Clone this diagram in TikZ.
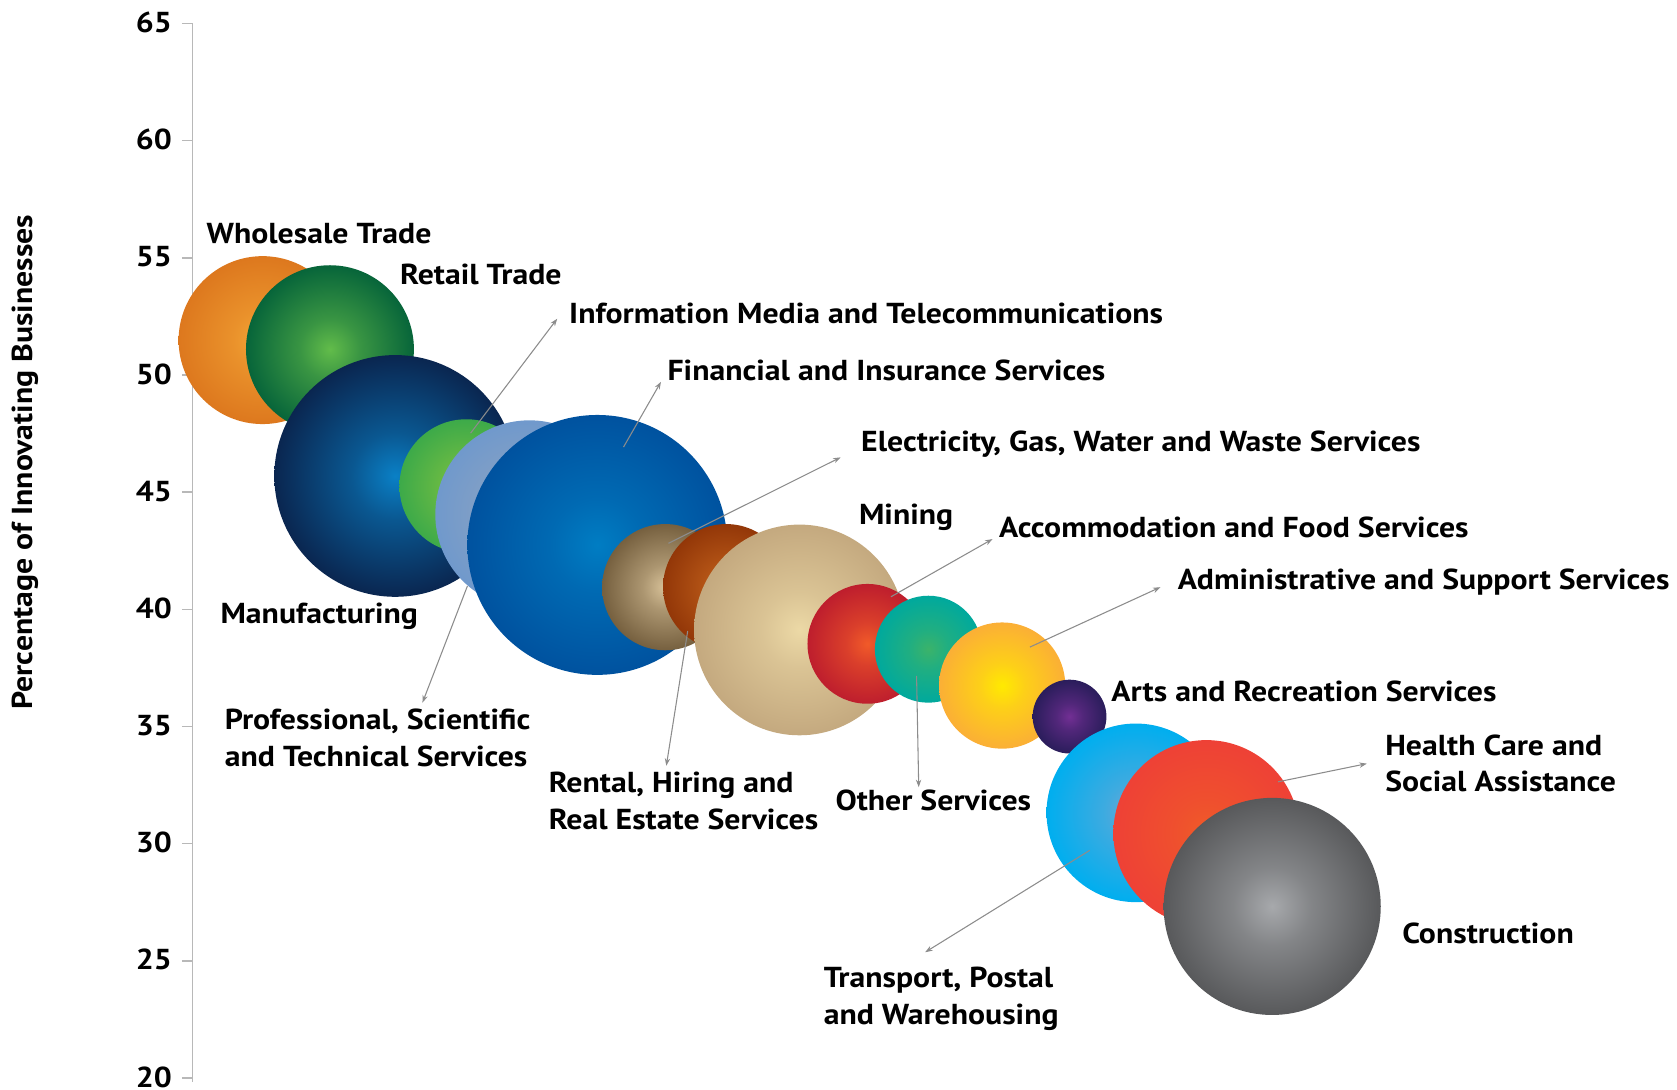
\documentclass[tikz,border=0pt]{standalone}
\usepackage{fontspec}
\setmainfont{PT Sans}[FakeStretch=1.1]
\usetikzlibrary{arrows.meta}
\pgfdeclareradialshading[bubin,bubmid,bubout]{bubble}{\pgfpoint{0bp}{0bp}}{color(0bp)=(bubin); color(9bp)=(bubmid); color(25bp)=(bubout); color(50bp)=(bubout)}
\colorlet{bubin}{white}
\colorlet{bubmid}{gray}
\colorlet{bubout}{black}
\begin{document}
\begin{tikzpicture}[
		x=1pt, y=-1pt,
		bub/.style n args={3}{circle, inner sep=0pt, minimum size=#1pt,
				/utils/exec={\definecolor{bubin}{HTML}{#2}\definecolor{bubout}{HTML}{#3}\colorlet{bubmid}{bubout!45!bubin}}, shading=bubble},
		lab/.style={anchor=west, inner sep=6pt, align=left, font=\fontsize{27}{34}\selectfont\bfseries},
		num/.style={anchor=east, inner sep=0pt, font=\fontsize{27}{34}\selectfont\bfseries},
		axis/.style={draw=black!28, line width=1.5pt},
		pointer/.style={draw=black!45, line width=1pt, -{Stealth[length=7pt,width=5pt]}}
	]
	\useasboundingbox (0,0) rectangle (1568,1019);

	\foreach \v in {20,25,...,65}{
			\node[num] (t\v) at (161,{21+(65-\v)*21.91}) {\v};
			\draw[axis] (170,{22+(65-\v)*21.91}) -- (180,{22+(65-\v)*21.91});
		}
	\draw[axis] (180,22) -- (180,1012);
	\node[rotate=90, font=\fontsize{27}{34}\selectfont\bfseries] (ylab) at (24,432) {Percentage of Innovating Businesses};

	\node[bub={157}{F4A636}{DD781E}] (whole) at (245.5,318) {};
	\node[bub={157}{62BC4A}{07653A}] (retail) at (308.5,326.5) {};
	\node[bub={226}{0A80C6}{0A2650}] (manu) at (369.5,445) {};
	\node[bub={125}{8CC63F}{3DAA49}] (info) at (436,454.5) {};
	\node[bub={176}{9AA8BC}{7099CC}] (prof) at (495,481) {};
	\node[bub={243}{007DC3}{00529F}] (fin) at (558.5,509.5) {};
	\node[bub={118}{D8C299}{76603F}] (elec) at (622,549) {};
	\node[bub={118}{CC6A20}{933708}] (rent) at (679,549) {};
	\node[bub={197}{ECD9A6}{C4A97F}] (mining) at (747.5,589) {};
	\node[bub={112}{F15A29}{BE1E2D}] (accom) at (811,602) {};
	\node[bub={100}{3BB36A}{00A99D}] (other) at (868,607) {};
	\node[bub={118}{FFEA00}{FBAF36}] (admin) at (937,641) {};
	\node[bub={69}{722F94}{2A1D5B}] (arts) at (1000,670) {};
	\node[bub={167}{6FA8D4}{00AEEF}] (trans) at (1062,760) {};
	\node[bub={174}{F05B28}{EE4136}] (health) at (1128,779) {};
	\node[bub={203}{A7A9AC}{58595B}] (cons) at (1189.5,847.5) {};

	\node[lab] (wholelab) at (187,218) {Wholesale Trade};
	\node[lab] (retaillab) at (368,257) {Retail Trade};
	\node[lab] (infolab) at (526,293) {Information Media and Telecommunications};
	\node[lab] (finlab) at (618,346) {Financial and Insurance Services};
	\node[lab] (eleclab) at (799,415) {Electricity, Gas, Water and Waste Services};
	\node[lab] (mininglab) at (797,484) {Mining};
	\node[lab] (accomlab) at (928,493) {Accommodation and Food Services};
	\node[lab] (adminlab) at (1095,544) {Administrative and Support Services};
	\node[lab] (artslab) at (1033,646) {Arts and Recreation Services};
	\node[lab] (healthlab) at (1289,714) {Health Care and\\Social Assistance};
	\node[lab] (conslab) at (1305,873) {Construction};
	\node[lab] (translab) at (764,934) {Transport, Postal\\and Warehousing};
	\node[lab] (otherlab) at (775,748) {Other Services};
	\node[lab] (rentlab) at (507,749) {Rental, Hiring and\\Real Estate Services};
	\node[lab] (proflab) at (204,690) {Professional, Scientific\\and Technical Services};
	\node[lab] (manulab) at (200,576) {Manufacturing};

	\coordinate (info-in) at (440,405);
	\coordinate (fin-in) at (583,418);
	\coordinate (elec-in) at (625,508);
	\coordinate (accom-in) at (833,558);
	\coordinate (admin-in) at (963,605);
	\coordinate (other-in) at (857,632);
	\coordinate (rent-in) at (643,590);
	\coordinate (prof-in) at (437,548);
	\coordinate (trans-in) at (1019,795);
	\coordinate (health-in) at (1195,731);

	\draw[pointer] (info-in) -- ([xshift=-5pt,yshift=-5pt]infolab.west);
	\draw[pointer] (fin-in) -- ([yshift=5pt]finlab.south west);
	\draw[pointer] (elec-in) -- ([xshift=-13pt,yshift=6pt]eleclab.south west);
	\draw[pointer] (accom-in) -- ([yshift=5pt]accomlab.south west);
	\draw[pointer] (admin-in) -- ([xshift=-10pt,yshift=-5pt]adminlab.west);
	\draw[pointer] (other-in) -- ([xshift=84pt,yshift=-4pt]otherlab.north west);
	\draw[pointer] (rent-in) -- ([xshift=116pt]rentlab.north west);
	\draw[pointer] (prof-in) -- ([xshift=191pt]proflab.north west);
	\draw[pointer] (trans-in) -- ([xshift=101pt,yshift=8pt]translab.north west);
	\draw[pointer] (health-in) -- ([xshift=-11pt]healthlab.west);
\end{tikzpicture}
\end{document}
